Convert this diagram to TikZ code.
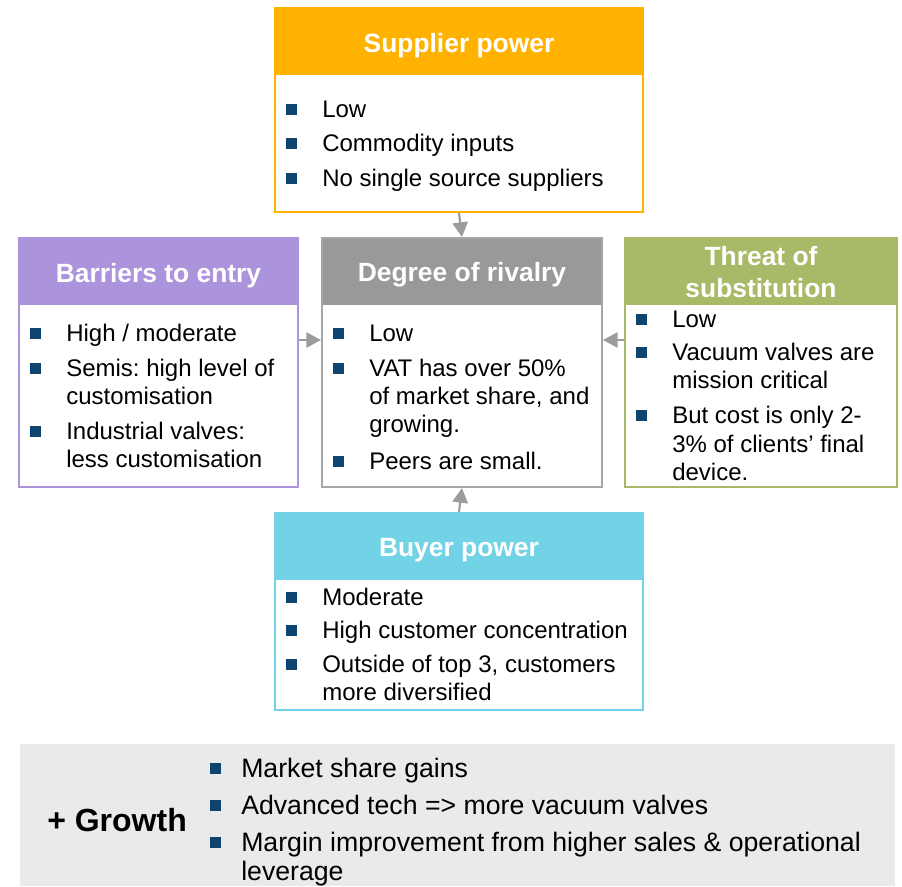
\documentclass[tikz,border=0pt]{standalone}
\usepackage{fontspec}
\setmainfont{Liberation Sans}
\usetikzlibrary{arrows.meta,fit}
\frenchspacing
\definecolor{supc}{HTML}{FFB300}
\definecolor{barc}{HTML}{AB94DB}
\definecolor{rivc}{HTML}{999999}
\definecolor{rivb}{HTML}{A6A6A6}
\definecolor{thrc}{HTML}{A8B968}
\definecolor{buyc}{HTML}{72D2E6}
\definecolor{bulc}{HTML}{0E4470}
\definecolor{grbg}{HTML}{E9EAEA}
\definecolor{arrc}{HTML}{9C9C9C}
\newcommand\itm[4]{\fill[bulc] (#2-36.5,#3-13.5) rectangle (#2-25.5,#3-2.5);
  \node[btext,anchor=base west] (#1) at (#2,#3) {#4};}
\newcommand\cnt[4]{\node[btext,anchor=base west] (#1) at (#2,#3) {#4};}
\newcommand\gitm[4]{\fill[bulc] (#2-31.5,#3-14) rectangle (#2-20.5,#3-3);
  \node[gtext,anchor=base west] (#1) at (#2,#3) {#4};}
\newcommand\gcnt[4]{\node[gtext,anchor=base west] (#1) at (#2,#3) {#4};}
\begin{document}
\begin{tikzpicture}[x=0.75pt,y=-0.75pt,
  btext/.style={inner sep=0pt,font=\fontsize{18}{21}\selectfont,text=black},
  gtext/.style={inner sep=0pt,font=\fontsize{20}{23}\selectfont,text=black},
  htext/.style={inner sep=0pt,font=\fontsize{19.8}{23}\selectfont\bfseries,text=white},
  hdr/.style={inner sep=0pt,draw=none},
  frame/.style={inner sep=0pt,line width=1.5pt},
  conn/.style={draw=arrc,line width=1.6pt,-{Triangle[length=11pt,width=11.5pt]}}]
\useasboundingbox (0,0) rectangle (902,886);

% Supplier power
\node[hdr,fill=supc,fit={(275,8)(643,75)}] (suph) {};
\node[frame,draw=supc,fit={(275,8)(643,212)}] (sup) {};
\node[htext,anchor=base] (supt) at (459,52) {Supplier power};
\itm{s1}{322}{117}{Low}
\itm{s2}{322}{151}{Commodity inputs}
\itm{s3}{322}{186}{No single source suppliers}

% Barriers to entry
\node[hdr,fill=barc,fit={(19,238)(298,305)}] (barh) {};
\node[frame,draw=barc,fit={(19,238)(298,487)}] (bar) {};
\node[htext,anchor=base] (bart) at (158.5,282) {Barriers to entry};
\itm{b1}{66}{341}{High / moderate}
\itm{b2}{66}{376}{Semis: high level of}
\cnt{b2b}{66}{404}{customisation}
\itm{b3}{66}{439}{Industrial valves:}
\cnt{b3b}{66}{467}{less customisation}

% Degree of rivalry
\node[hdr,fill=rivc,fit={(322,238)(602,305)}] (rivh) {};
\node[frame,draw=rivb,fit={(322,238)(602,487)}] (riv) {};
\node[htext,anchor=base] (rivt) at (462,281) {Degree of rivalry};
\itm{r1}{369}{341}{Low}
\itm{r2}{369}{376}{VAT has over 50\%}
\cnt{r2b}{369}{404}{of market share, and}
\cnt{r2c}{369}{432}{growing.}
\itm{r3}{369}{469}{Peers are small.}

% Threat of substitution
\node[hdr,fill=thrc,fit={(625,238)(897,305)}] (thrh) {};
\node[frame,draw=thrc,fit={(625,238)(897,487)}] (thr) {};
\node[htext,anchor=base] (thrt1) at (761,265) {Threat of};
\node[htext,anchor=base] (thrt2) at (761,297) {substitution};
\itm{t1}{672}{327}{Low}
\itm{t2}{672}{360}{Vacuum valves are}
\cnt{t2b}{672}{388}{mission critical}
\itm{t3}{672}{423}{But cost is only 2-}
\cnt{t3b}{672}{452}{3\% of clients’ final}
\cnt{t3c}{672}{480}{device.}

% Buyer power
\node[hdr,fill=buyc,fit={(275,513)(643,580)}] (buyh) {};
\node[frame,draw=buyc,fit={(275,513)(643,710)}] (buy) {};
\node[htext,anchor=base] (buyt) at (459,556) {Buyer power};
\itm{y1}{322}{605}{Moderate}
\itm{y2}{322}{638}{High customer concentration}
\itm{y3}{322}{672}{Outside of top 3, customers}
\cnt{y3b}{322}{700}{more diversified}

% Connectors
\coordinate (ay) at (0,340);
\draw[conn] (sup.south) -- (riv.north);
\draw[conn] (buy.north) -- (riv.south);
\draw[conn] (bar.east |- ay) -- (riv.west |- ay);
\draw[conn] (thr.west |- ay) -- (riv.east |- ay);

% Growth
\node[hdr,fill=grbg,fit={(20,744)(895,886)}] (grow) {};
\node[inner sep=0pt,font=\fontsize{24}{28}\selectfont\bfseries,anchor=base west] (growt) at (47,831) {+ Growth};
\gitm{g1}{241}{777}{Market share gains}
\gitm{g2}{241}{814}{Advanced tech => more vacuum valves}
\gitm{g3}{241}{851}{Margin improvement from higher sales \& operational}
\gcnt{g3b}{241}{880}{leverage}
\end{tikzpicture}
\end{document}
